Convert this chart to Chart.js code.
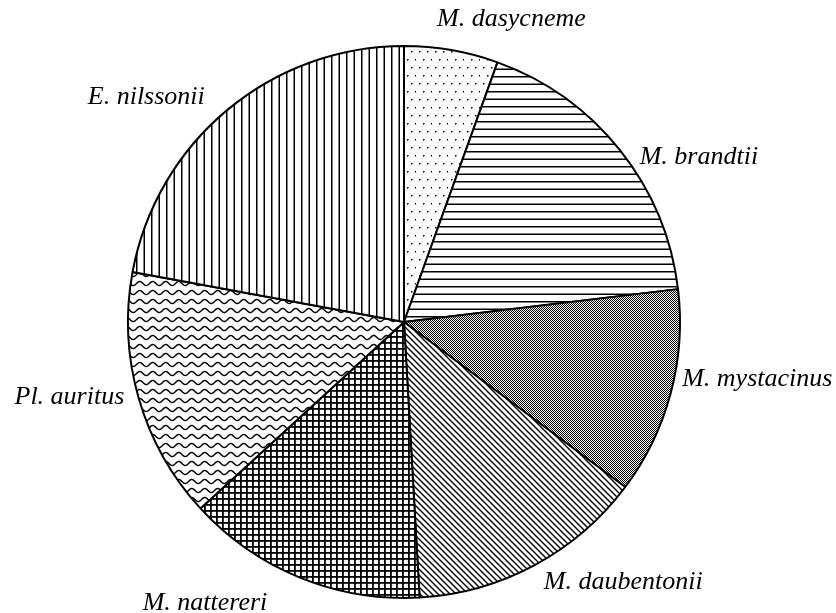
<!DOCTYPE html>
<html>
<head>
<meta charset="utf-8">
<script src="https://cdn.jsdelivr.net/npm/chart.js@4/dist/chart.umd.min.js"></script>
<style>
  html, body { margin: 0; padding: 0; background: #fff; }
  #wrap { width: 836px; height: 613px; position: relative; }
</style>
</head>
<body>
<div id="wrap"><canvas id="pieChart"></canvas></div>
<script>
// ========= Data =========
const species = ["M. dasycneme", "M. brandtii", "M. mystacinus", "M. daubentonii", "M. nattereri", "Pl. auritus", "E. nilssonii"];
const shares = [5.5, 17.6, 12.1, 13.9, 14.1, 14.7, 22.1];

// ========= Hatch patterns =========
function makeTile(w, h, draw) {
    const c = document.createElement("canvas");
    c.width = w;
    c.height = h;
    const g = c.getContext("2d");
    g.fillStyle = "#fff";
    g.fillRect(0, 0, w, h);
    g.fillStyle = "#000";
    g.strokeStyle = "#000";
    draw(g, w, h);
    return g.createPattern(c, "repeat");
}

const dots = makeTile(16, 16, (g) => {
    g.fillRect(3, 3, 1.5, 1.5);
    g.fillRect(11, 3, 1.5, 1.5);
    g.fillRect(7, 11, 1.5, 1.5);
    g.fillRect(15, 11, 1, 1.5);
});
const horizontal = makeTile(15, 15, (g) => {
    g.fillRect(0, 1, 15, 1.5);
    g.fillRect(0, 8.5, 15, 1.5);
});
const checker = makeTile(2, 2, (g) => {
    g.fillRect(0, 0, 1, 1);
    g.fillRect(1, 1, 1, 1);
});
const diagonal = makeTile(6, 6, (g) => {
    g.lineWidth = 1.4;
    g.beginPath();
    g.moveTo(-1, -1); g.lineTo(7, 7);
    g.moveTo(-1, 5); g.lineTo(1, 7);
    g.moveTo(5, -1); g.lineTo(7, 1);
    g.stroke();
});
const grid = makeTile(6, 6, (g) => {
    g.fillRect(0, 0, 1.8, 6);
    g.fillRect(0, 0, 6, 1.8);
});
const wave = makeTile(13, 9, (g) => {
    g.lineWidth = 1.5;
    g.beginPath();
    for (let x = -1; x <= 14; x += 0.5) {
        const y = 4.5 + 2 * Math.sin((x / 13) * Math.PI * 2);
        if (x === -1) g.moveTo(x, y); else g.lineTo(x, y);
    }
    g.stroke();
});
const vertical = makeTile(15, 15, (g) => {
    g.fillRect(1, 0, 1.5, 15);
    g.fillRect(8.5, 0, 1.5, 15);
});

const fills = [dots, horizontal, checker, diagonal, grid, wave, vertical];

// small nudges so labels sit where the original put them
const labelNudge = [[-17, -16], [8, 16], [-3, -18], [2, 4], [-27, 12], [0, -5], [-13, -1]];

// ========= Outside labels =========
const outsideLabels = {
    id: "outsideLabels",
    afterDatasetsDraw(chart) {
        const ctx = chart.ctx;
        const meta = chart.getDatasetMeta(0);
        ctx.save();
        ctx.font = "italic 26px 'Liberation Serif', 'Times New Roman', serif";
        ctx.fillStyle = "#000";
        ctx.textBaseline = "middle";
        meta.data.forEach((arc, i) => {
            const p = arc.getProps(["x", "y", "startAngle", "endAngle", "outerRadius"], true);
            const mid = (p.startAngle + p.endAngle) / 2;
            const r = p.outerRadius + 15;
            const cx = Math.cos(mid);
            let x = p.x + r * cx;
            let y = p.y + r * Math.sin(mid);
            ctx.textAlign = cx > 0.1 ? "left" : cx < -0.1 ? "right" : "center";
            x += labelNudge[i][0];
            y += labelNudge[i][1];
            ctx.fillText(species[i], x, y);
        });
        ctx.restore();
    },
};

// ========= Pie =========
new Chart(document.getElementById("pieChart"), {
    type: "pie",
    data: {
        labels: species,
        datasets: [
            {
                data: shares,
                backgroundColor: fills,
                borderColor: "#000",
                borderWidth: 2,
                borderAlign: "center",
            },
        ],
    },
    options: {
        responsive: true,
        maintainAspectRatio: false,
        animation: false,
        layout: { padding: { left: 127, right: 155, top: 45, bottom: 14 } },
        plugins: {
            legend: { display: false },
            tooltip: { enabled: false },
        },
    },
    plugins: [outsideLabels],
});
</script>
</body>
</html>
